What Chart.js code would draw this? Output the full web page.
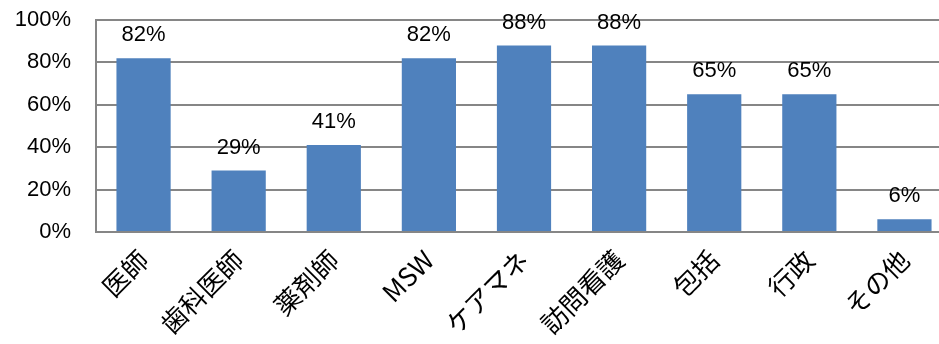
<!DOCTYPE html>
<html>
<head>
<meta charset="utf-8">
<script src="https://cdn.jsdelivr.net/npm/chart.js@4/dist/chart.umd.min.js"></script>
<style>
  html, body { margin: 0; padding: 0; background: #fff; overflow: hidden; }
  #wrap { width: 952px; height: 344px; }
</style>
</head>
<body>
<div id="wrap"><canvas id="chart"></canvas></div>
<script>
const categories = ['医師', '歯科医師', '薬剤師', 'MSW', 'ケアマネ', '訪問看護', '包括', '行政', 'その他'];
const values = [82, 29, 41, 82, 88, 88, 65, 65, 6];
const yTicks = [0, 20, 40, 60, 80, 100];

const numFont = '"Liberation Sans", Arial, sans-serif';
const jpFont = '"Noto Sans CJK JP", "Liberation Sans", sans-serif';

// draws the % value above each bar
const barLabels = {
    id: 'barLabels',
    afterDatasetsDraw(chart) {
        const ctx = chart.ctx;
        const meta = chart.getDatasetMeta(0);
        ctx.save();
        ctx.font = '22px ' + numFont;
        ctx.fillStyle = '#000';
        ctx.textAlign = 'center';
        ctx.textBaseline = 'bottom';
        meta.data.forEach((bar, i) => {
            ctx.fillText(values[i] + '%', bar.x, bar.y - 12);
        });
        ctx.restore();
    }
};

new Chart(document.getElementById('chart'), {
    type: 'bar',
    data: {
        labels: categories,
        datasets: [{
            data: values,
            backgroundColor: '#4F81BD',
            borderWidth: 0,
            barPercentage: 0.57,
            categoryPercentage: 1.0
        }]
    },
    options: {
        responsive: true,
        maintainAspectRatio: false,
        animation: false,
        layout: { padding: { top: 20, right: 0, left: 0, bottom: 0 } },
        plugins: {
            legend: { display: false },
            tooltip: { enabled: false }
        },
        scales: {
            x: {
                grid: { display: false, drawTicks: false },
                border: { display: true, color: '#868686', width: 2 },
                ticks: {
                    color: '#000',
                    font: { family: jpFont, size: 26 },
                    maxRotation: 45,
                    minRotation: 45,
                    padding: 12,
                    autoSkip: false
                },
                afterFit(scale) { scale.height = 112; }
            },
            y: {
                min: 0,
                max: 100,
                afterBuildTicks(scale) { scale.ticks = yTicks.map(v => ({ value: v })); },
                grid: { color: '#868686', lineWidth: 2, drawTicks: false },
                border: { display: true, color: '#868686', width: 2 },
                ticks: {
                    color: '#000',
                    font: { family: numFont, size: 22 },
                    padding: 25,
                    callback: v => v + '%'
                },
                afterFit(scale) {
                    scale.width = 96;
                    scale.paddingTop = 0;
                    scale.paddingBottom = 0;
                }
            }
        }
    },
    plugins: [barLabels]
});
</script>
</body>
</html>
